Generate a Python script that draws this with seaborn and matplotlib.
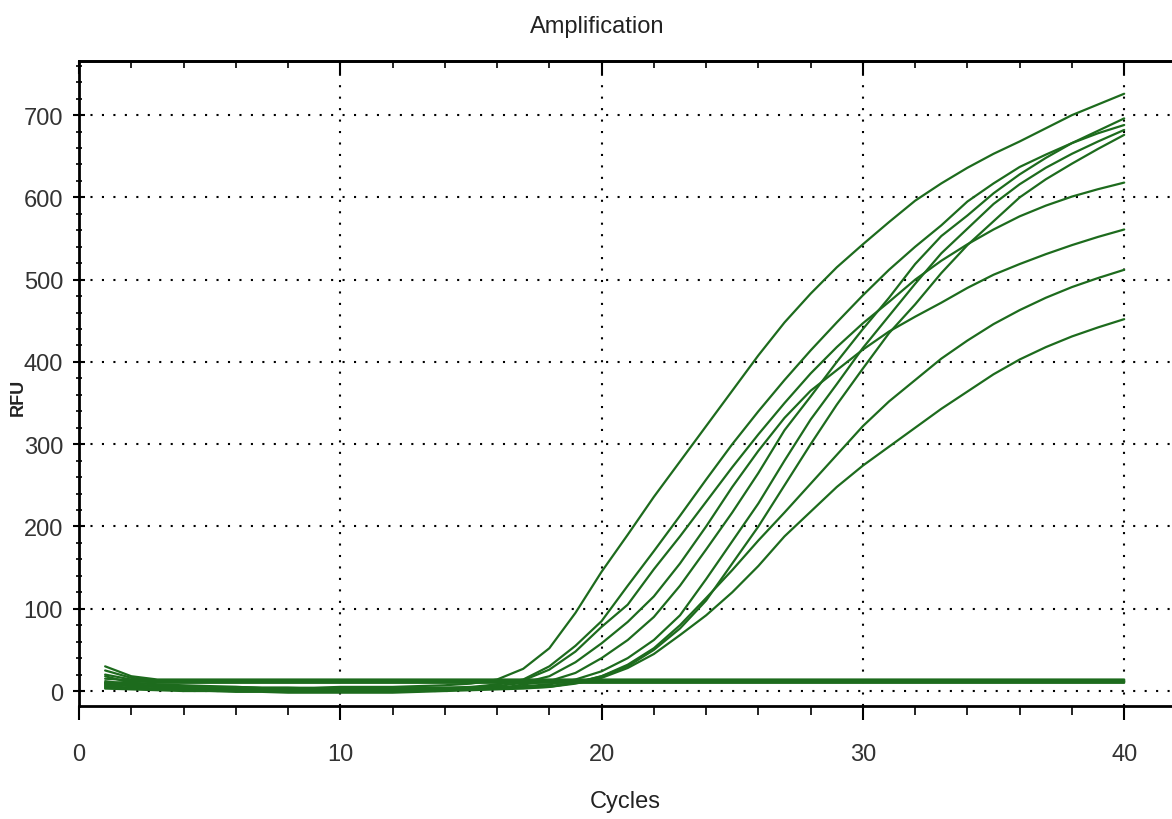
import matplotlib
matplotlib.use("Agg")
import numpy as np
import pandas as pd
import matplotlib.pyplot as plt
import seaborn as sns
from matplotlib.ticker import MultipleLocator

# qPCR amplification: RFU per cycle
cycles = list(range(1, 41))

well_a = [18, 10, 8, 7, 6, 5, 4, 4, 4, 5, 5, 5, 6, 7, 9,
          14, 27, 52, 95, 145, 190, 236, 279, 322, 365,
          408, 448, 483, 515, 543, 570, 596, 617, 636, 653,
          668, 684, 700, 713, 726]
well_b = [12, 8, 6, 5, 4, 3, 2, 2, 2, 3, 3, 3, 4, 4, 5,
          8, 14, 30, 55, 85, 128, 170, 213, 257, 300,
          340, 378, 414, 448, 481, 512, 540, 566, 595, 617,
          637, 652, 666, 678, 688]
well_c = [8, 6, 5, 4, 3, 2, 1, 0, 0, 0, 0, 1, 1, 2, 2,
          3, 8, 12, 22, 40, 62, 90, 128, 172, 217,
          265, 317, 358, 400, 440, 478, 519, 553, 578, 605,
          628, 648, 666, 681, 696]
well_d = [5, 4, 3, 3, 2, 2, 1, 1, 0, 0, 0, 0, 1, 1, 2,
          3, 6, 8, 14, 24, 40, 62, 92, 136, 182,
          228, 280, 330, 373, 417, 456, 495, 532, 562, 592,
          616, 636, 653, 668, 682]
well_e = [10, 7, 6, 6, 5, 5, 4, 4, 3, 3, 3, 3, 4, 4, 4,
          5, 5, 6, 10, 18, 30, 50, 76, 110, 155,
          200, 250, 300, 348, 392, 435, 470, 508, 542, 571,
          600, 622, 641, 659, 676]
well_f = [6, 4, 3, 2, 1, 1, 0, 0, -1, -1, -1, -1, 0, 1, 3,
          8, 13, 26, 48, 78, 105, 148, 188, 230, 272,
          312, 350, 386, 418, 447, 473, 500, 523, 543, 561,
          577, 590, 601, 610, 618]
well_g = [4, 3, 2, 2, 1, 1, 0, 0, 0, -1, -1, 0, 0, 1, 2,
          6, 10, 18, 35, 58, 84, 115, 155, 200, 248,
          292, 332, 365, 390, 415, 437, 455, 472, 490, 506,
          519, 531, 542, 552, 561]
well_h = [3, 2, 1, 0, 0, -1, -1, -2, -2, -2, -2, -2, -1, 0, 1,
          2, 3, 5, 10, 18, 32, 52, 80, 113, 147,
          183, 217, 252, 287, 322, 352, 378, 404, 426, 446,
          463, 478, 491, 502, 512]
well_i = [9, 7, 6, 5, 4, 4, 3, 3, 3, 2, 2, 2, 3, 3, 3,
          4, 4, 5, 9, 16, 28, 45, 68, 92, 120,
          152, 188, 218, 248, 274, 297, 320, 343, 364, 385,
          403, 418, 431, 442, 452]

# wells with no amplification (flat band near 12 RFU)
neg_1 = [25, 16, 13] + [12] * 37
neg_2 = [20, 14, 12] + [11] * 37
neg_3 = [15, 13] + [13] * 38
neg_4 = [10, 11] + [12] * 38
neg_5 = [7, 9] + [10] * 38
neg_6 = [30, 18, 14] + [14] * 37

wells = {"A": well_a, "B": well_b, "C": well_c, "D": well_d, "E": well_e,
         "F": well_f, "G": well_g, "H": well_h, "I": well_i,
         "N1": neg_1, "N2": neg_2, "N3": neg_3, "N4": neg_4, "N5": neg_5, "N6": neg_6}

rows = []
for name, vals in wells.items():
    for c, v in zip(cycles, vals):
        rows.append((name, c, v))
df = pd.DataFrame(rows, columns=["well", "cycle", "rfu"])

sns.set_theme(style="white")
plt.rcParams["font.family"] = ["Liberation Sans Narrow", "Liberation Sans", "DejaVu Sans"]

fig = plt.figure(figsize=(11.72, 8.2), dpi=100)
ax = fig.add_axes([79 / 1172, 113 / 820, 1093 / 1172, 645 / 820])

sns.lineplot(data=df, x="cycle", y="rfu", units="well", estimator=None,
             color="#1d6b1d", lw=1.6, ax=ax, legend=False)

ax.set_xlim(0, 41.83)
ax.set_ylim(-18.2, 765.8)
ax.set_xlabel("")
ax.set_ylabel("")

ax.xaxis.set_major_locator(MultipleLocator(10))
ax.xaxis.set_minor_locator(MultipleLocator(2))
ax.yaxis.set_major_locator(MultipleLocator(100))
ax.yaxis.set_minor_locator(MultipleLocator(20))

ax.grid(True, which="major", color="black", linestyle=(0, (1, 4.5)), linewidth=1.5)
ax.grid(False, which="minor")

for side in ["top", "left", "bottom"]:
    ax.spines[side].set_color("black")
    ax.spines[side].set_linewidth(2)
ax.spines["right"].set_visible(False)

ax.tick_params(axis="x", which="major", direction="out", length=10, width=1.5,
               bottom=True, top=False, pad=17, labelsize=17, labelcolor="#333333", color="black")
ax.tick_params(axis="x", which="minor", direction="out", length=6.5, width=1.2,
               bottom=True, top=False, color="black")
ax.tick_params(axis="y", which="major", direction="inout", length=9, width=1.5,
               left=True, pad=7, labelsize=17, labelcolor="#333333", color="black")
ax.tick_params(axis="y", which="minor", direction="inout", length=5, width=1.2,
               left=True, color="black")

top = ax.secondary_xaxis("top")
top.xaxis.set_major_locator(MultipleLocator(10))
top.xaxis.set_minor_locator(MultipleLocator(2))
top.tick_params(which="major", direction="in", length=9, width=1.5, top=True, labeltop=False, color="black")
top.tick_params(which="minor", direction="in", length=5, width=1.2, top=True, color="black")
top.spines["top"].set_linewidth(2)

fig.text(597 / 1172, 1 - 27 / 820, "Amplification", ha="center", va="center",
         fontsize=17, color="#222222")
fig.text(625 / 1172, 18 / 820, "Cycles", ha="center", va="center",
         fontsize=17, color="#222222")
fig.text(18 / 1172, 1 - 397 / 820, "RFU", ha="center", va="center", rotation=90,
         fontsize=13, fontweight="bold", color="#222222",
         family=["Liberation Sans", "DejaVu Sans"])

fig.savefig("out.png", dpi=100)
